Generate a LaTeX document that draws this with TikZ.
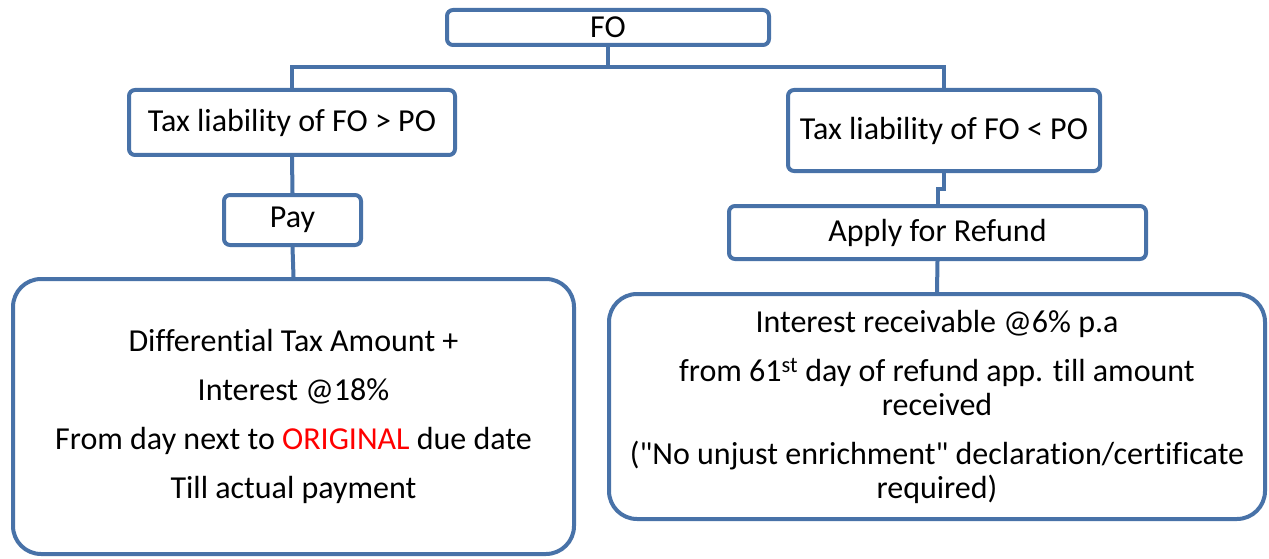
\documentclass[tikz,border=0pt]{standalone}
\usepackage{fontspec}
\setmainfont{Carlito}[Ligatures=NoCommon]
\usepackage{xcolor}
\usepackage{tikz}
\usetikzlibrary{positioning, calc}
\definecolor{boxblue}{RGB}{72,114,168}
\definecolor{hotred}{RGB}{255,0,0}
\tikzset{
  smallbox/.style={draw=boxblue, line width=4pt, rounded corners=6pt, fill=white, inner sep=0pt, align=center},
  bigbox/.style={draw=boxblue, line width=4pt, rounded corners=28pt, fill=white, inner sep=0pt, align=center},
  link/.style={draw=boxblue, line width=4pt}
}

\begin{document}
\begin{tikzpicture}[x=1pt, y=-1pt, font=\fontsize{32}{34}\selectfont]
        \useasboundingbox (0,0) rectangle (1269,559);

        % Top of the tree
        \node[smallbox, minimum width=322pt, minimum height=35pt] (fo) at (608,27.5) {FO};

        % The two cases
        \node[smallbox, minimum width=326pt, minimum height=65pt] (more) at (292,122.5) {Tax liability of FO > PO};
        \node[smallbox, minimum width=312pt, minimum height=81pt] (less) at (944,130.5) {Tax liability of FO < PO};

        % What follows
        \node[smallbox, minimum width=137pt, minimum height=50pt] (pay)    at (292.5,220) {Pay};
        \node[smallbox, minimum width=417pt, minimum height=53pt] (refund) at (937.5,232.5) {Apply for Refund};

        % Details
        \node[bigbox, minimum width=561pt, minimum height=275pt] (payinfo) at (293.5,416.5) {%
            Differential Tax Amount +\\[15pt]
            Interest @18\%\\[15pt]
            From day next to \textcolor{hotred}{ORIGINAL} due date\\[15pt]
            Till actual payment};
        \node[bigbox, minimum width=656pt, minimum height=225pt] (refundinfo) at (937,406.5) {%
            Interest receivable @6\% p.a\\[15pt]
            from 61\textsuperscript{st} day of refund app. till amount\\
            received\\[15pt]
            (\textquotedbl No unjust enrichment\textquotedbl{} declaration/certificate\\
            required)};

        % Links
        \draw[link] (fo.south) -- ++(0,20) -| (more.north);
        \draw[link] (fo.south) -- ++(0,20) -| (less.north);

        \draw[link] (more.south) -- (pay.north);
        \draw[link] (less.south) -- ++(0,16) -| (refund.north);

        \draw[link] (pay.south)    -- (payinfo.north);
        \draw[link] (refund.south) -- (refundinfo.north);
\end{tikzpicture}
\end{document}
